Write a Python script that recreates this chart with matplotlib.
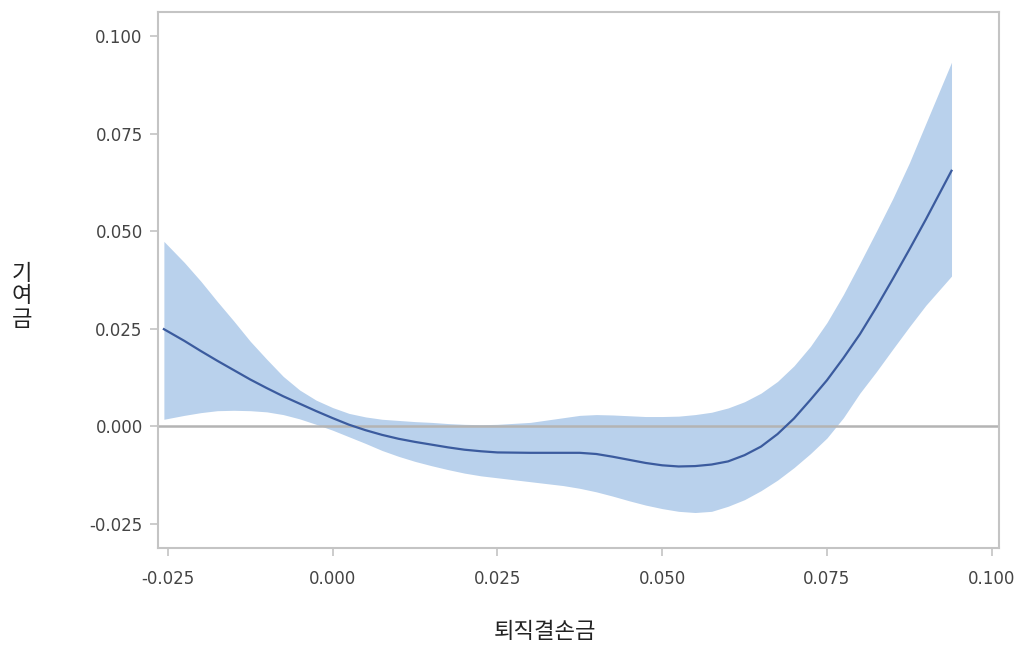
import matplotlib
matplotlib.use('Agg')
import matplotlib.pyplot as plt

# x grid (퇴직결손금)
x_vals = [-0.0256, -0.0225, -0.020, -0.0175, -0.015, -0.0125, -0.010, -0.0075, -0.005, -0.0025,
          0.000, 0.0025, 0.005, 0.0075, 0.010, 0.0125, 0.015, 0.0175, 0.020, 0.0225,
          0.025, 0.030, 0.035, 0.0375, 0.040, 0.0425, 0.045, 0.0475, 0.050, 0.0525,
          0.055, 0.0575, 0.060, 0.0625, 0.065, 0.0675, 0.070, 0.0725, 0.075, 0.0775,
          0.080, 0.0825, 0.085, 0.0875, 0.090, 0.0939]

# mean contribution (기여금)
mean_vals = [0.0249, 0.0219, 0.0193, 0.0168, 0.0144, 0.0120, 0.0098, 0.0077, 0.0058, 0.0039,
             0.0021, 0.0004, -0.0010, -0.0022, -0.0032, -0.0040, -0.0047, -0.0054, -0.0060, -0.0064,
             -0.0067, -0.0068, -0.0068, -0.0068, -0.0071, -0.0078, -0.0086, -0.0094, -0.0100, -0.0103,
             -0.0102, -0.0098, -0.0090, -0.0074, -0.0052, -0.0020, 0.0020, 0.0068, 0.0118, 0.0175,
             0.0236, 0.0305, 0.0378, 0.0453, 0.0530, 0.0655]

# confidence band
upper_vals = [0.0474, 0.0420, 0.0372, 0.0320, 0.0270, 0.0218, 0.0172, 0.0128, 0.0093, 0.0067,
              0.0048, 0.0033, 0.0024, 0.0018, 0.0015, 0.0012, 0.0010, 0.0007, 0.0005, 0.0004,
              0.0005, 0.0010, 0.0022, 0.0028, 0.0030, 0.0029, 0.0027, 0.0025, 0.0025, 0.0026,
              0.0030, 0.0036, 0.0047, 0.0063, 0.0085, 0.0115, 0.0155, 0.0205, 0.0266, 0.0338,
              0.0418, 0.0500, 0.0584, 0.0675, 0.0776, 0.0933]
lower_vals = [0.0018, 0.0028, 0.0035, 0.0040, 0.0041, 0.0040, 0.0037, 0.0030, 0.0019, 0.0005,
              -0.0010, -0.0027, -0.0044, -0.0062, -0.0077, -0.0090, -0.0101, -0.0111, -0.0120, -0.0127,
              -0.0132, -0.0142, -0.0152, -0.0159, -0.0168, -0.0179, -0.0191, -0.0202, -0.0211, -0.0218,
              -0.0221, -0.0218, -0.0205, -0.0188, -0.0165, -0.0138, -0.0106, -0.0070, -0.0030, 0.0022,
              0.0085, 0.0140, 0.0198, 0.0255, 0.0310, 0.0385]

x_ticks = [-0.025, 0.000, 0.025, 0.050, 0.075, 0.100]
y_ticks = [-0.025, 0.000, 0.025, 0.050, 0.075, 0.100]

fig = plt.figure(figsize=(10.23, 6.51), dpi=100)
ax = fig.add_axes([0.1544, 0.1582, 0.8221, 0.8234])

ax.fill_between(x_vals, lower_vals, upper_vals, color='#b9d1ec', linewidth=0)
ax.axhline(0, color='#b4b4b4', linewidth=1.8, zorder=1.5)
ax.plot(x_vals, mean_vals, color='#3b5b9e', linewidth=1.6)

ax.set_xlim(-0.0265, 0.1011)
ax.set_ylim(-0.0312, 0.1062)
ax.set_xticks(x_ticks)
ax.set_yticks(y_ticks)
ax.set_xticklabels([f'{v:.3f}' for v in x_ticks])
ax.set_yticklabels([f'{v:.3f}' for v in y_ticks])

for s in ax.spines.values():
    s.set_color('#c4c4c4')
    s.set_linewidth(1.5)
ax.tick_params(colors='#c4c4c4', labelcolor='#444444', length=6, width=1.2,
               labelsize=12)
ax.tick_params(axis='x', pad=10)
ax.tick_params(axis='y', pad=5)
for lab in ax.get_xticklabels() + ax.get_yticklabels():
    lab.set_family('DejaVu Sans')

fig.text(545 / 1023, 1 - 632 / 651, '퇴직결손금', fontsize=16, ha='center', va='center',
         family=['Noto Sans CJK KR', 'DejaVu Sans'], color='#222222')
fig.text(22 / 1023, 1 - 296 / 651, '기\n여\n금', fontsize=16, ha='center', va='center',
         linespacing=1.0, family=['Noto Sans CJK KR', 'DejaVu Sans'], color='#222222')

plt.savefig('out.png', dpi=100)
